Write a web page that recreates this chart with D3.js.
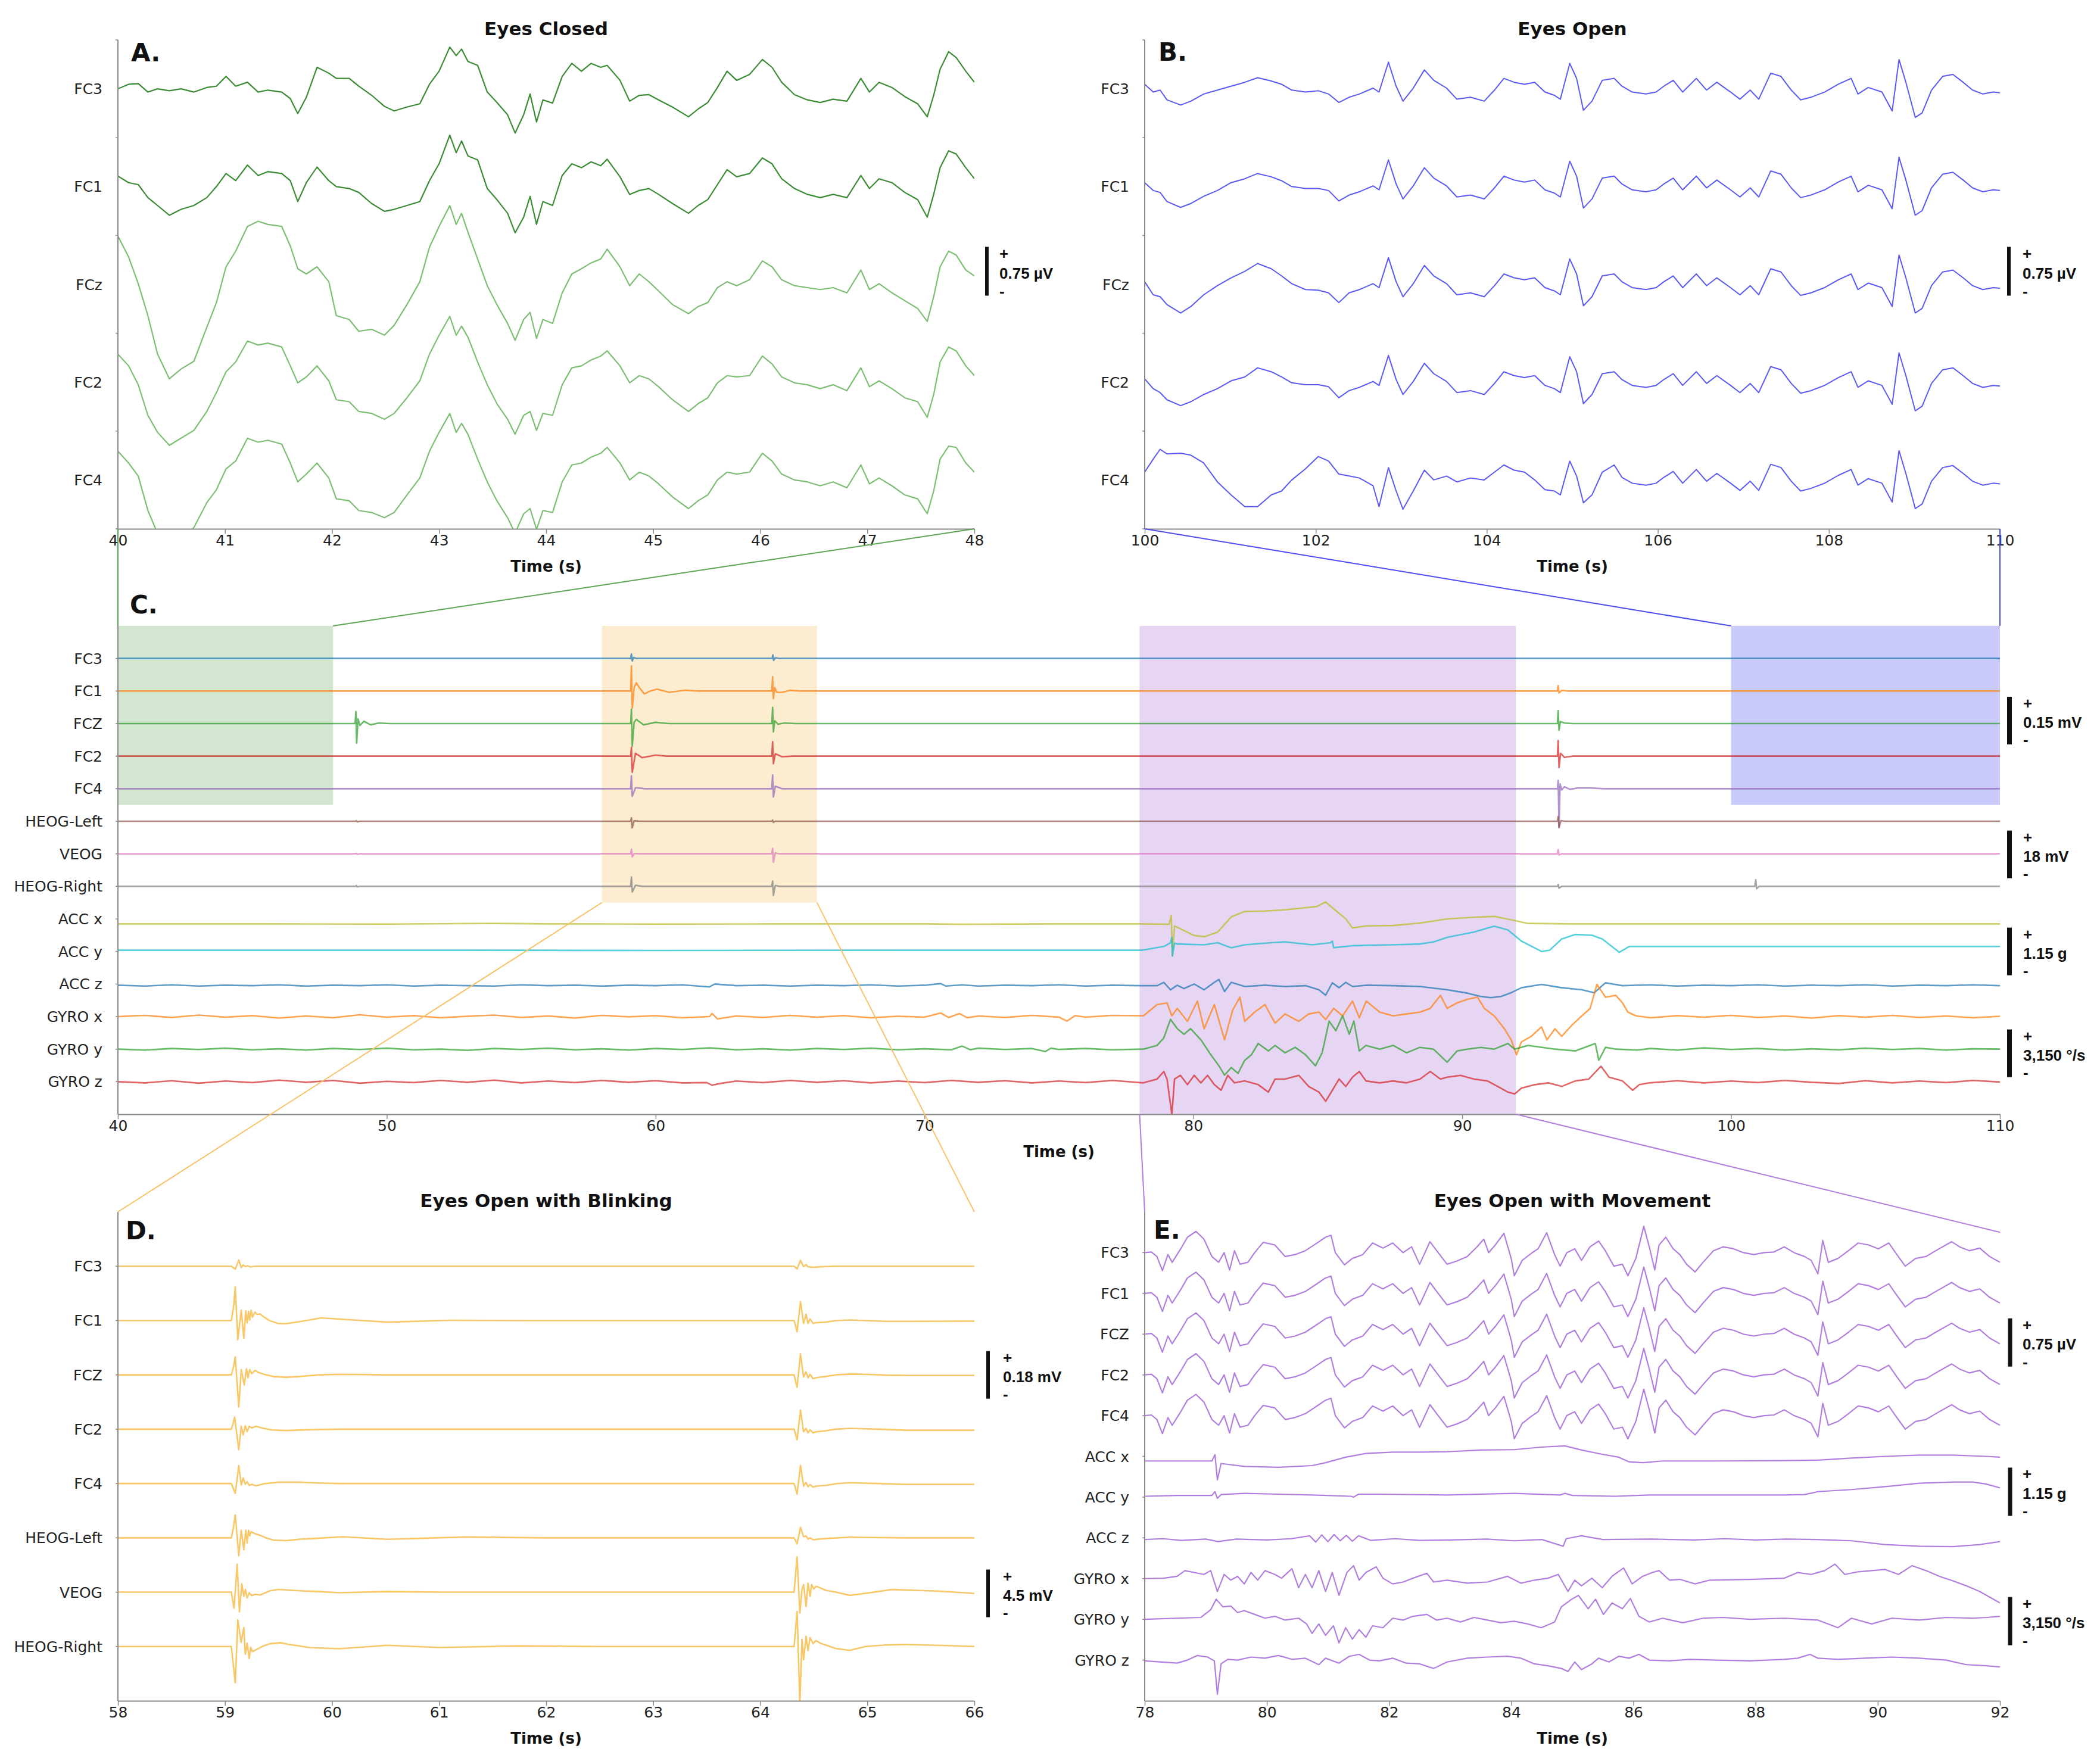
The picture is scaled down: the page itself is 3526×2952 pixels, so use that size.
<!DOCTYPE html>
<html>
<head>
<meta charset="utf-8">
<script src="https://cdnjs.cloudflare.com/ajax/libs/d3/7.8.5/d3.min.js"></script>
<style>
  html, body { margin: 0; padding: 0; background: #fff; overflow: hidden; }
  svg { display: block; font-family: "DejaVu Sans", sans-serif; }
  .chan { font-size: 25px; fill: #222; }
  .title { font-size: 31px; font-weight: bold; fill: #111; }
  .letter { font-size: 42px; font-weight: bold; fill: #111; }
  .scale-label { font-family: "Liberation Sans", Arial, sans-serif; font-size: 26px; font-weight: bold; fill: #111; }
  .axis-title { font-size: 26px; font-weight: bold; fill: #111; }
</style>
</head>
<body>
<script>
// ---------- Panel A: eyes closed (µV) ----------
const aTimes = [40.00, 40.10, 40.19, 40.28, 40.37, 40.48, 40.59, 40.71, 40.83, 40.92,
  41.01, 41.10, 41.21, 41.31, 41.40, 41.53, 41.61, 41.68, 41.76, 41.86,
  41.97, 42.04, 42.16, 42.25, 42.37, 42.49, 42.58, 42.70, 42.82, 42.91,
  43.00, 43.10, 43.16, 43.21, 43.27, 43.36, 43.45, 43.54, 43.64, 43.71,
  43.79, 43.85, 43.91, 43.97, 44.06, 44.15, 44.24, 44.33, 44.42, 44.51,
  44.57, 44.69, 44.78, 44.87, 44.96, 45.05, 45.18, 45.33, 45.42, 45.51,
  45.60, 45.69, 45.78, 45.90, 46.02, 46.11, 46.20, 46.32, 46.44, 46.56,
  46.68, 46.81, 46.94, 47.02, 47.11, 47.23, 47.35, 47.47, 47.56, 47.62,
  47.68, 47.76, 47.83, 47.92, 48.00];
const aFC3 = [0, 0.07, 0.08, -0.05, 0, -0.03, 0, -0.05, 0.02, 0.04,
  0.19, 0.04, 0.10, -0.05, -0.02, -0.05, -0.15, -0.38, -0.13, 0.33,
  0.24, 0.16, 0.16, 0.04, -0.10, -0.27, -0.34, -0.28, -0.23, 0.07,
  0.27, 0.64, 0.51, 0.61, 0.42, 0.36, -0.05, -0.21, -0.40, -0.68,
  -0.40, -0.08, -0.51, -0.17, -0.22, 0.19, 0.39, 0.27, 0.39, 0.33,
  0.36, 0.13, -0.19, -0.10, -0.09, -0.17, -0.28, -0.43, -0.31, -0.21,
  0.02, 0.27, 0.13, 0.22, 0.45, 0.33, 0.10, -0.09, -0.17, -0.21,
  -0.16, -0.19, 0.16, -0.05, 0.10, 0.02, -0.12, -0.23, -0.43, -0.10,
  0.30, 0.57, 0.48, 0.27, 0.10];
const aFC1 = [0.16, 0.06, 0.03, -0.17, -0.29, -0.44, -0.35, -0.29, -0.17, 0,
  0.20, 0.09, 0.33, 0.17, 0.23, 0.20, 0.09, -0.23, 0.06, 0.30,
  0.09, 0, -0.03, -0.09, -0.26, -0.38, -0.35, -0.29, -0.23, 0.09,
  0.35, 0.79, 0.52, 0.70, 0.47, 0.41, -0.03, -0.20, -0.41, -0.71,
  -0.47, -0.15, -0.58, -0.23, -0.29, 0.17, 0.35, 0.29, 0.38, 0.32,
  0.42, 0.15, -0.12, -0.06, -0.03, -0.12, -0.26, -0.41, -0.29, -0.20,
  0.03, 0.26, 0.15, 0.20, 0.44, 0.35, 0.12, -0.03, -0.12, -0.17,
  -0.12, -0.17, 0.17, -0.03, 0.12, 0.06, -0.09, -0.20, -0.47, -0.12,
  0.29, 0.55, 0.50, 0.29, 0.12];
const aFCz = [0.74, 0.42, 0.01, -0.48, -1.07, -1.45, -1.30, -1.18, -0.66, -0.28,
  0.27, 0.51, 0.89, 0.97, 0.92, 0.89, 0.59, 0.24, 0.16, 0.27,
  0.04, -0.48, -0.54, -0.72, -0.69, -0.78, -0.63, -0.31, 0.04, 0.57,
  0.89, 1.21, 0.92, 1.09, 0.80, 0.39, -0.02, -0.31, -0.60, -0.86,
  -0.54, -0.43, -0.83, -0.54, -0.60, -0.13, 0.16, 0.24, 0.33, 0.39,
  0.54, 0.27, -0.02, 0.16, 0.04, -0.10, -0.31, -0.45, -0.34, -0.28,
  -0.05, 0.04, -0.02, 0.07, 0.36, 0.27, 0.07, -0.02, -0.05, -0.08,
  -0.05, -0.13, 0.22, -0.08, 0.01, -0.13, -0.25, -0.37, -0.57, -0.19,
  0.27, 0.51, 0.45, 0.22, 0.13];
const aFC2 = [0.43, 0.25, -0.04, -0.51, -0.77, -0.97, -0.86, -0.74, -0.45, -0.16,
  0.16, 0.31, 0.63, 0.57, 0.60, 0.54, 0.25, -0.01, 0.08, 0.25,
  0.02, -0.27, -0.30, -0.45, -0.48, -0.57, -0.48, -0.24, 0.02, 0.43,
  0.72, 1.01, 0.72, 0.86, 0.69, 0.31, -0.04, -0.33, -0.57, -0.80,
  -0.51, -0.45, -0.74, -0.48, -0.51, -0.04, 0.22, 0.25, 0.34, 0.40,
  0.48, 0.25, -0.01, 0.10, 0.05, -0.07, -0.27, -0.45, -0.33, -0.24,
  -0.01, 0.10, 0.08, 0.10, 0.40, 0.28, 0.08, -0.01, -0.04, -0.10,
  -0.04, -0.13, 0.22, -0.07, 0.02, -0.10, -0.24, -0.30, -0.54, -0.19,
  0.31, 0.54, 0.48, 0.25, 0.10];
const aFC4 = [0.44, 0.26, 0.06, -0.47, -0.82, -0.99, -0.93, -0.73, -0.35, -0.15,
  0.17, 0.29, 0.64, 0.58, 0.61, 0.55, 0.26, -0.03, 0.09, 0.26,
  0.03, -0.29, -0.32, -0.47, -0.50, -0.58, -0.50, -0.23, 0.03, 0.44,
  0.73, 1.02, 0.73, 0.87, 0.70, 0.32, -0.03, -0.32, -0.58, -0.82,
  -0.52, -0.44, -0.76, -0.47, -0.50, -0.03, 0.23, 0.26, 0.35, 0.41,
  0.50, 0.26, 0, 0.12, 0.06, -0.06, -0.26, -0.44, -0.32, -0.23,
  0, 0.12, 0.09, 0.12, 0.41, 0.29, 0.09, 0, -0.03, -0.09,
  -0.03, -0.12, 0.23, -0.06, 0.03, -0.09, -0.23, -0.29, -0.52, -0.17,
  0.32, 0.52, 0.50, 0.26, 0.12];

// ---------- Panel B: eyes open (µV) ----------
const bTimes = [100.00, 100.10, 100.18, 100.26, 100.42, 100.54, 100.69, 100.85, 101.01, 101.17,
  101.32, 101.48, 101.60, 101.72, 101.88, 102.03, 102.15, 102.27, 102.39, 102.51,
  102.67, 102.74, 102.85, 102.94, 103.02, 103.14, 103.27, 103.38, 103.53, 103.65,
  103.81, 103.97, 104.09, 104.20, 104.32, 104.44, 104.56, 104.68, 104.79, 104.86,
  104.97, 105.05, 105.13, 105.23, 105.35, 105.49, 105.58, 105.70, 105.86, 105.98,
  106.07, 106.18, 106.29, 106.45, 106.57, 106.69, 106.85, 106.96, 107.08, 107.18,
  107.32, 107.44, 107.56, 107.67, 107.79, 107.95, 108.11, 108.26, 108.34, 108.46,
  108.62, 108.74, 108.82, 108.90, 109.01, 109.09, 109.20, 109.33, 109.45, 109.57,
  109.68, 109.80, 109.92, 110.00];
const bFC3 = [0.07, -0.05, -0.02, -0.17, -0.25, -0.19, -0.08, -0.02, 0.04, 0.10,
  0.17, 0.12, 0.07, -0.02, -0.05, -0.03, -0.08, -0.21, -0.13, -0.08,
  0.01, -0.05, 0.41, 0.04, -0.19, 0.01, 0.29, 0.13, 0.01, -0.16,
  -0.13, -0.19, -0.02, 0.16, 0.10, 0.07, 0.10, -0.05, -0.10, -0.16,
  0.39, 0.16, -0.33, -0.19, 0.13, 0.16, 0.04, -0.05, -0.08, -0.05,
  0.04, 0.13, -0.05, 0.16, -0.02, 0.10, -0.05, -0.16, -0.02, -0.16,
  0.24, 0.19, -0.02, -0.17, -0.13, -0.05, 0.07, 0.16, -0.08, 0.02,
  -0.05, -0.34, 0.45, 0.10, -0.44, -0.37, -0.02, 0.19, 0.22, 0.10,
  -0.02, -0.08, -0.05, -0.06];
const bFC1 = [0.06, -0.06, -0.09, -0.23, -0.32, -0.26, -0.15, -0.06, 0.06, 0.12,
  0.20, 0.15, 0.09, 0, -0.03, -0.03, -0.06, -0.22].concat(bFC3.slice(18));
const bFCz = [0.04, -0.16, -0.19, -0.31, -0.44, -0.34, -0.16, -0.02, 0.10, 0.20,
  0.32, 0.24, 0.13, 0.01, -0.08, -0.09, -0.13, -0.28].concat(bFC3.slice(18));
const bFC2 = [0.05, -0.10, -0.16, -0.27, -0.36, -0.30, -0.19, -0.10, 0.02, 0.08,
  0.22, 0.16, 0.08, -0.01, -0.04, -0.04, -0.07, -0.24].concat(bFC3.slice(18));
const bFC4 = [0.12, 0.32, 0.47, 0.40, 0.41, 0.38, 0.26, -0.03, -0.23, -0.41,
  -0.41, -0.23, -0.17, 0, 0.17, 0.36, 0.29, 0.09, 0.06, 0.03,
  -0.09, -0.41, 0.19, -0.17, -0.45, -0.17, 0.15, 0, 0.06, -0.03,
  0.03, 0, 0.12, 0.23, 0.15, 0.12, 0, -0.15, -0.17, -0.23,
  0.29, 0.06, -0.35, -0.23, 0.12, 0.23].concat(bFC3.slice(46));

// ---------- Panel C: whole recording, [time s, value] ----------
// EEG in mV
const cFC3 = [[40,0],[59.07,0],[59.1,0.014],[59.13,-0.008],[59.18,0.003],[59.3,0],[64.33,0],[64.36,0.011],[64.39,-0.006],[64.45,0.002],[64.6,0],[110,0]];
const cFC1 = [[40,0],[59.07,0],[59.1,0.079],[59.13,-0.054],[59.2,0.01],[59.28,0.026],[59.4,0.01],[59.58,-0.009],[59.8,0],[60.06,0.006],[60.5,-0.004],[61.09,0.0025],[61.6,0],
  [64.32,0],[64.35,0.045],[64.38,-0.024],[64.43,0.011],[64.5,-0.004],[64.7,-0.004],[65,0.002],[65.4,0],[93.54,0],[93.57,0.017],[93.6,-0.006],[93.7,0.002],[93.9,0],[110,0]];
const cFCZ = [[40,0],[48.82,0],[48.85,0.038],[48.88,-0.062],[48.93,0.015],[49,-0.006],[49.15,0.007],[49.4,-0.004],[49.7,0.002],[50.1,0],
  [59.07,0],[59.1,0.045],[59.13,-0.071],[59.2,0.004],[59.28,0.013],[59.55,-0.004],[60,0.004],[60.5,0],
  [64.32,0],[64.35,0.051],[64.38,-0.026],[64.43,0.009],[64.55,-0.002],[64.8,0.002],[65.2,0],
  [93.54,0],[93.57,0.041],[93.6,-0.021],[93.65,0.006],[93.8,0.002],[94.1,0],[110,0]];
const cFC2 = [[40,0],[59.07,0],[59.1,0.028],[59.13,-0.051],[59.25,0.009],[59.5,-0.005],[60,0.003],[60.4,0],
  [64.32,0],[64.35,0.045],[64.38,-0.024],[64.45,0.0075],[64.7,-0.002],[65.1,0],
  [93.54,0],[93.57,0.049],[93.6,-0.036],[93.66,0.009],[93.8,-0.004],[94.1,0],[110,0]];
const cFC4 = [[40,0],[59.07,0],[59.1,0.041],[59.13,-0.024],[59.25,0.003],[59.6,0],
  [64.32,0],[64.35,0.043],[64.38,-0.026],[64.45,0.0075],[64.7,0],
  [93.54,0],[93.57,0.026],[93.6,-0.12],[93.64,0.015],[93.7,-0.004],[93.8,0.006],[94,-0.002],[94.3,0.002],[94.8,0.002],[95.3,0],[110,0]];
// EOG in mV
const cHEOGL = [[40,0],[48.84,0],[48.87,0.22],[48.9,-0.22],[49,0],[59.07,0],[59.1,1.28],[59.13,-2.48],[59.2,0.2],[59.4,0],
  [64.32,0],[64.35,0.45],[64.38,-0.45],[64.45,0],[93.54,0],[93.57,1.8],[93.6,-2.48],[93.67,0.2],[93.8,0],[110,0]];
const cVEOG = [[40,0],[48.84,0],[48.87,0.2],[48.9,-0.2],[49,0],[59.07,0],[59.1,1.73],[59.13,-1.13],[59.2,0.1],[59.4,0],
  [64.32,0],[64.35,2.03],[64.38,-3.15],[64.45,0.3],[64.6,0],[93.54,0],[93.57,1.58],[93.6,-0.45],[93.7,0],[110,0]];
const cHEOGR = [[40,0],[48.84,0],[48.87,0.3],[48.9,-0.2],[49,0],[59.07,0],[59.1,3.53],[59.13,-2.09],[59.25,0.38],[59.5,0],
  [64.32,0],[64.35,2.03],[64.38,-3.38],[64.45,0.3],[64.6,0],[93.54,0],[93.57,0.68],[93.6,-0.68],[93.7,0],
  [100.88,0],[100.92,2.48],[100.95,-0.9],[101.05,0],[110,0]];
// accelerometer in g
const cACCx = [[40,-0.12],[45,-0.12],[50,-0.125],[54,-0.11],[56,-0.12],[60,-0.125],[65,-0.12],[70,-0.12],[71.4,-0.13],[75,-0.12],[78,-0.12],
  [79.1,-0.13],[79.18,0.09],[79.22,-0.89],[79.3,-0.17],[80.03,-0.40],[80.4,-0.43],[80.9,-0.32],[81.41,0.05],[81.91,0.18],[82.66,0.19],
  [83.41,0.22],[84.17,0.27],[84.6,0.3],[84.92,0.41],[85.17,0.27],[85.67,0],[85.92,-0.22],[86.42,-0.17],[87.43,-0.16],[88.43,-0.10],
  [89.44,0],[90.44,0.04],[91.19,0.06],[91.95,-0.04],[92.45,-0.11],[94,-0.12],[100,-0.12],[110,-0.12]];
const cACCy = [[40,0.03],[50,0.03],[60,0.025],[70,0.03],[78.1,0.03],[78.9,0.12],[79.15,0.21],[79.2,0.34],[79.22,-0.11],[79.3,0.2],[79.4,0.18],
  [80.4,0.16],[80.9,0.21],[81.41,0.09],[81.91,0.16],[82.91,0.21],[83.41,0.23],[84.42,0.16],[85.1,0.21],[85.17,0.25],[85.22,0.09],
  [85.92,0.14],[87.43,0.16],[88.43,0.18],[88.93,0.23],[89.44,0.34],[90.44,0.47],[91.19,0.61],[91.7,0.52],[92.2,0.25],[92.95,0],
  [93.25,0.03],[93.7,0.30],[94.2,0.41],[94.83,0.39],[95.21,0.30],[95.84,-0.02],[96.21,0.12],[100,0.12],[110,0.12]];
const cACCz = [[40,-0.03],[41,-0.05],[42,-0.02],[43,-0.05],[44,-0.03],[45,-0.04],[46,-0.02],[47,-0.05],[48,-0.03],[49,-0.04],
  [50,-0.02],[51,-0.05],[52,-0.03],[53,-0.04],[54,-0.05],[55,-0.02],[56,-0.04],[57,-0.03],[58,-0.05],[59,-0.03],
  [60,-0.04],[61,-0.02],[62,-0.07],[62.2,0],[63,-0.04],[64,-0.03],[65,-0.05],[66,-0.03],[67,-0.04],[68,-0.02],
  [69,-0.05],[70,-0.03],[70.6,0.01],[70.8,-0.05],[71.4,-0.02],[72,-0.05],[73,-0.03],[74,-0.04],[75,-0.02],[76,-0.05],
  [77,-0.03],[78,-0.04],[78.65,-0.04],[78.9,0.04],[79.15,-0.14],[79.4,-0.03],[79.65,-0.11],[80.03,0],[80.4,-0.14],[80.78,0.04],
  [80.95,0.11],[81.16,-0.18],[81.41,0.04],[81.91,-0.06],[82.66,-0.03],[83.41,-0.06],[84.17,-0.04],[84.67,-0.14],[84.92,-0.27],[85.17,0.03],
  [85.42,-0.09],[85.67,0.04],[85.92,-0.06],[86.42,-0.03],[87.43,-0.04],[88.43,-0.06],[89.44,-0.14],[90.19,-0.22],[90.69,-0.30],[91.07,-0.33],
  [91.44,-0.30],[91.82,-0.21],[92.2,-0.09],[92.95,-0.01],[93.7,-0.09],[94.45,-0.14],[94.91,-0.21],[95.33,0.03],[95.96,-0.04],[97,-0.02],
  [98,-0.05],[99,-0.03],[100,-0.04],[101,-0.02],[102,-0.05],[103,-0.03],[104,-0.04],[105,-0.02],[106,-0.05],[107,-0.03],
  [108,-0.04],[109,-0.02],[110,-0.04]];
// gyroscope in °/s
const cGYROx = [[40,0],[41,80],[42,-60],[43,100],[44,-40],[45,60],[46,-100],[47,40],[48,-80],[49,120],
  [50,-40],[51,60],[52,-80],[53,20],[54,100],[55,-60],[56,40],[57,-100],[58,80],[59,-20],
  [60,60],[61,-80],[62,0],[62.1,200],[62.3,-160],[63,40],[64,-60],[65,80],[66,-40],[67,60],
  [68,-80],[69,20],[70,-40],[70.6,240],[70.9,-60],[71.3,200],[71.6,-80],[72,40],[73,-60],[74,80],
  [75,-40],[75.3,-300],[75.6,60],[76,-40],[77,80],[78.14,49],[78.65,788],[79.02,906],[79.2,49],[79.4,542],
  [79.78,-315],[80.15,1024],[80.4,-812],[80.78,788],[81.16,-1537],[81.46,418],[81.73,1281],[81.91,-315],[82.28,296],[82.66,788],
  [83.04,-433],[83.41,173],[83.92,-315],[84.29,173],[84.67,296],[84.92,-197],[85.22,542],[85.55,49],[85.92,1024],[86.17,-79],
  [86.43,1024],[86.93,296],[87.43,49],[87.93,173],[88.43,296],[88.81,542],[89.19,1403],[89.44,542],[89.81,906],[90.19,1143],
  [90.57,1281],[90.82,542],[91.19,49],[91.57,-812],[91.82,-1537],[92.02,-2522],[92.2,-1675],[92.57,-1300],[92.95,-690],[93.15,-1537],
  [93.45,-812],[93.7,-1300],[94.08,-567],[94.45,49],[94.76,542],[95.01,2128],[95.33,1281],[95.71,1403],[95.96,906],[96.16,296],
  [96.46,49],[97,-80],[98,60],[99,-40],[100,80],[101,-60],[102,40],[103,-100],[104,60],[105,-40],
  [106,80],[107,-60],[108,40],[109,-80],[110,20]];
const cGYROy = [[40,0],[41,-60],[42,40],[43,-20],[44,60],[45,-40],[46,20],[47,-60],[48,40],[49,-20],
  [50,60],[51,-40],[52,0],[53,-80],[54,40],[55,-20],[56,60],[57,-40],[58,20],[59,-60],
  [60,40],[61,-20],[62,80],[63,-40],[64,20],[65,-60],[66,40],[67,-20],[68,60],[69,-40],
  [70,20],[71,-40],[71.4,200],[71.7,-40],[72,60],[73,-20],[74,40],[74.5,-160],[74.7,60],[75,-20],
  [76,40],[77,-40],[78.14,0],[78.65,246],[78.9,739],[79.15,1970],[79.4,1355],[79.65,985],[79.9,1355],[80.28,615],
  [80.65,-370],[80.95,-1103],[81.16,-1724],[81.41,-1221],[81.66,-1600],[81.91,-739],[82.16,-370],[82.41,370],[82.79,-118],[83.04,246],
  [83.41,-246],[83.79,118],[84.17,-370],[84.54,-1103],[84.79,-246],[85.05,1852],[85.3,1221],[85.55,2206],[85.8,985],[85.97,1852],
  [86.17,-118],[86.42,246],[86.93,0],[87.43,246],[87.93,-246],[88.43,118],[88.93,0],[89.44,-867],[89.81,-118],[90.19,0],
  [90.69,118],[91.19,0],[91.7,370],[91.95,0],[92.45,246],[93.45,0],[94.2,-118],[94.95,370],[95.08,-739],[95.33,120],
  [95.71,0],[96.5,-60],[97,40],[98,-60],[99,80],[100,-20],[101,40],[102,-60],[103,20],[104,-40],
  [105,60],[106,-20],[107,40],[108,-60],[109,20],[110,0]];
const cGYROz = [[40,0],[41,-80],[42,60],[43,-100],[44,40],[45,-60],[46,100],[47,-40],[48,80],[49,-100],
  [50,20],[51,-60],[52,80],[53,-40],[54,100],[55,-80],[56,40],[57,-60],[58,80],[59,-40],
  [60,60],[61,-80],[61.9,-60],[62.1,-236],[62.4,-120],[63,40],[64,-60],[65,80],[66,-40],[67,60],
  [68,-80],[69,40],[70,-60],[71,80],[72,-40],[73,60],[74,-80],[75,40],[76,-60],[77,80],
  [78.14,-79],[78.65,173],[78.9,670],[79.02,173],[79.2,-2167],[79.3,173],[79.52,418],[79.78,-197],[80.03,418],[80.28,-79],
  [80.53,418],[80.78,-197],[81.03,-567],[81.28,418],[81.53,-79],[81.91,49],[82.41,-197],[82.79,-690],[83.04,173],[83.41,173],
  [83.92,418],[84.29,-315],[84.67,-690],[84.92,-1300],[85.17,-567],[85.42,173],[85.67,-315],[85.92,296],[86.17,670],[86.42,49],
  [86.93,-79],[87.43,49],[87.93,-79],[88.43,173],[88.81,670],[89.19,173],[89.44,296],[89.94,418],[90.44,173],[90.94,49],
  [91.32,-315],[91.7,-690],[91.95,-812],[92.2,-433],[92.7,-197],[93.2,-79],[93.7,-315],[94.2,49],[94.71,173],[95.16,1024],
  [95.46,296],[95.96,49],[96.34,-567],[96.59,-197],[96.96,-79],[98,60],[99,-80],[100,40],[101,-60],[102,80],
  [103,-40],[104,-120],[105,60],[106,-80],[107,40],[108,-60],[109,80],[110,-20]];

// ---------- Panel D: blinking, [time s, mV] ----------
const dFC3 = [[58,0],[59.06,0],[59.096,-0.011],[59.129,0.023],[59.152,-0.005],[59.17,0.005],[59.19,-0.002],[59.21,0.002],[59.24,-0.003],[59.28,0],
  [64.316,0],[64.344,-0.01],[64.376,0.022],[64.405,-0.002],[64.428,0.006],[64.446,-0.002],[64.493,-0.004],[64.567,-0.002],[64.7,0],[66,0]];
const dFC1 = [[58,0],[59.059,0],[59.08,0.05],[59.096,0.127],[59.12,-0.073],[59.152,0.039],[59.176,-0.067],[59.194,0.036],[59.207,-0.009],[59.22,0.034],
  [59.231,0.002],[59.244,0.039],[59.257,0.013],[59.281,0.032],[59.3,0.023],[59.328,0.025],[59.365,0.013],[59.42,-0.001],[59.495,-0.011],[59.57,-0.012],
  [59.7,-0.004],[59.9,0.01],[60.2,0.002],[60.52,-0.006],[61.1,0.001],[61.8,0],[64.316,0],[64.344,-0.042],[64.376,0.072],[64.405,-0.011],
  [64.428,0.024],[64.446,-0.011],[64.465,0.006],[64.493,-0.011],[64.52,-0.008],[64.567,-0.007],[64.613,-0.006],[64.706,0],[64.836,0.002],[64.984,0],
  [65.17,-0.003],[65.355,-0.003],[66,-0.002]];
const dFCZ = [[58,0],[59.059,0],[59.08,0.03],[59.096,0.068],[59.129,-0.121],[59.152,0.02],[59.18,-0.038],[59.2,0.023],[59.215,-0.011],[59.231,0.02],
  [59.25,0.0045],[59.281,0.017],[59.31,0.0095],[59.365,0.002],[59.45,-0.006],[59.57,-0.009],[59.7,-0.006],[59.88,0],[60.07,0.002],[60.5,0],
  [64.316,0],[64.344,-0.047],[64.376,0.079],[64.405,-0.008],[64.428,0.011],[64.446,-0.011],[64.465,0.002],[64.493,-0.014],[64.52,-0.011],[64.567,-0.008],
  [64.613,-0.006],[64.706,0],[64.836,0.003],[64.984,0.002],[65.17,-0.001],[65.355,-0.002],[66,-0.002]];
const dFC2 = [[58,0],[59.059,0],[59.075,0.02],[59.09,0.046],[59.129,-0.077],[59.152,0.011],[59.17,-0.021],[59.19,0.013],[59.207,-0.009],[59.226,0.011],
  [59.25,0.005],[59.29,0.011],[59.35,0.004],[59.44,-0.003],[59.57,-0.005],[59.8,-0.002],[60.07,0],[64.316,0],[64.344,-0.04],[64.376,0.072],
  [64.405,-0.01],[64.428,0.003],[64.446,-0.014],[64.465,-0.002],[64.493,-0.014],[64.52,-0.01],[64.613,-0.006],[64.706,0],[64.836,0.003],[65.1,0],
  [65.355,-0.004],[66,-0.004]];
const dFC4 = [[58,0],[59.059,0],[59.096,-0.037],[59.129,0.067],[59.152,-0.005],[59.17,0.021],[59.19,-0.003],[59.207,0.007],[59.226,-0.007],[59.25,-0.003],
  [59.29,-0.009],[59.365,-0.001],[59.5,0.005],[59.7,0.005],[59.88,0.002],[60.07,0],[64.316,0],[64.344,-0.04],[64.376,0.068],[64.405,-0.01],
  [64.428,0.004],[64.446,-0.012],[64.465,-0.004],[64.493,-0.014],[64.52,-0.01],[64.613,-0.007],[64.706,-0.001],[64.836,0.003],[65.1,0],[65.355,-0.003],
  [66,-0.003]];
const dHEOGL = [[58,0],[59.059,0],[59.08,1.0],[59.096,2.17],[59.129,-1.69],[59.152,0.71],[59.176,-1.12],[59.194,0.71],[59.207,-0.48],[59.22,0.71],
  [59.231,0.19],[59.244,0.58],[59.281,0.39],[59.328,0.24],[59.39,-0.03],[59.45,-0.21],[59.57,-0.26],[59.7,-0.13],[59.88,-0.03],[60.1,0.1],
  [60.52,-0.14],[61.24,0.08],[62,0],[64.316,0],[64.344,-0.56],[64.376,0.99],[64.405,0.11],[64.428,0.17],[64.446,-0.11],[64.465,0],
  [64.493,-0.17],[64.613,-0.06],[64.836,0.06],[65.355,0],[66,0]];
const dVEOG = [[58,0],[59.059,0],[59.085,-1.52],[59.114,2.64],[59.135,-1.85],[59.157,0.79],[59.176,-0.39],[59.19,0.26],[59.207,-0.53],[59.226,-0.06],
  [59.25,-0.32],[59.281,-0.21],[59.328,-0.26],[59.42,0.13],[59.5,0.26],[59.7,0.13],[59.88,0.05],[60.07,-0.05],[60.5,0.05],[61,0],
  [64.316,0],[64.344,3.34],[64.37,-1.97],[64.39,0.28],[64.405,0.72],[64.428,-1.35],[64.446,0.84],[64.465,-0.39],[64.48,0.72],[64.5,0.3],
  [64.52,0.56],[64.55,0.45],[64.613,0.17],[64.706,0],[64.836,-0.3],[64.984,-0.11],[65.23,0.25],[65.65,0.1],[66,-0.11]];
const dHEOGR = [[58,0],[59.059,0],[59.096,-3.43],[59.12,2.53],[59.15,0.4],[59.176,1.78],[59.19,-0.73],[59.207,0.32],[59.226,-1.12],[59.24,-0.08],
  [59.257,-0.48],[59.3,-0.26],[59.36,0.06],[59.42,0.26],[59.52,0.36],[59.6,0.19],[59.8,-0.11],[60.07,-0.21],[60.52,0.11],[61,-0.1],
  [61.73,0.05],[62.5,0],[64.316,0],[64.344,3.31],[64.37,-5.34],[64.39,0.67],[64.405,-1.24],[64.428,0.96],[64.446,-0.39],[64.465,0.84],
  [64.493,0.28],[64.52,0.56],[64.567,0.28],[64.613,0.14],[64.706,-0.19],[64.836,-0.36],[64.984,0],[65.17,0.14],[65.355,0.19],[65.7,0.1],[66,0]];

// ---------- Panel E: movement, [time s, value] ----------
const eEEG = [[78.00,0],[78.11,0.01],[78.20,-0.06],[78.29,-0.28],[78.38,-0.03],[78.45,-0.15],[78.59,0.06],[78.70,0.24],[78.84,0.33],[78.97,0.21],
  [79.10,-0.06],[79.21,-0.15],[79.30,0],[79.39,-0.27],[79.47,0.03],[79.56,-0.18],[79.69,-0.15],[79.80,0],[79.94,0.16],[80.13,0.12],
  [80.30,-0.06],[80.46,-0.03],[80.63,0.03],[80.79,0.13],[80.96,0.24],[81.05,0.27],[81.12,0],[81.27,-0.19],[81.40,-0.09],[81.57,-0.03],
  [81.73,0.15],[81.90,0.07],[82.06,0.15],[82.23,0],[82.37,0.09],[82.50,-0.18],[82.67,0.17],[82.78,0.03],[82.95,-0.18],[83.11,-0.13],
  [83.28,-0.06],[83.44,0.09],[83.55,0.21],[83.63,0],[83.74,0.12],[83.88,0.30],[84.00,-0.09],[84.05,-0.36],[84.18,-0.12],[84.33,-0.01],
  [84.44,0.06],[84.58,0.31],[84.71,-0.03],[84.80,-0.21],[84.91,0],[85.04,0.06],[85.15,-0.12],[85.29,0.09],[85.43,0.18],[85.54,0.03],
  [85.68,-0.21],[85.82,-0.18],[85.91,-0.36],[86.04,-0.09],[86.17,0.41],[86.26,0.09],[86.35,-0.27],[86.42,0.12],[86.53,0.24],[86.65,0.06],
  [86.76,-0.03],[86.87,-0.18],[87.01,-0.30],[87.14,-0.15],[87.31,0.03],[87.47,0.09],[87.64,0.06],[87.80,0],[87.97,-0.03],[88.14,0],
  [88.30,0.01],[88.47,0.09],[88.63,0],[88.80,-0.06],[88.91,-0.12],[89.02,-0.33],[89.10,0.19],[89.19,-0.15],[89.35,-0.09],[89.52,0.03],
  [89.68,0.15],[89.85,0.12],[90.01,0.06],[90.18,0.15],[90.29,0],[90.45,-0.21],[90.62,-0.09],[90.79,-0.06],[90.95,0.03],[91.21,0.17],
  [91.34,0.09],[91.50,0.03],[91.67,0.07],[91.83,-0.06],[92.00,-0.15]];
const eACCx = [[78,-0.11],[78.5,-0.11],[79.1,-0.11],[79.15,0.04],[79.19,-0.56],[79.25,-0.17],[79.63,-0.24],[80.19,-0.26],[80.74,-0.22],[80.96,-0.15],
  [81.29,-0.02],[81.62,0.07],[82.06,0.10],[82.5,0.10],[82.95,0.11],[83.5,0.15],[84.05,0.16],[84.49,0.22],[84.88,0.25],[85.15,0.15],
  [85.49,0.05],[85.76,-0.02],[85.93,-0.13],[86.15,-0.15],[86.48,-0.11],[87.36,-0.11],[88.47,-0.10],[89.02,-0.09],[89.57,-0.04],[90.12,0],
  [90.68,0.03],[91.23,0.03],[91.78,0],[92,-0.02]];
const eACCy = [[78,0.02],[78.53,0.04],[79.1,0.04],[79.15,0.13],[79.19,-0.03],[79.25,0.06],[79.63,0.09],[80.19,0.07],[80.74,0.05],[81.38,0.02],
  [81.42,0],[81.5,0.07],[81.84,0.07],[82.95,0.05],[84.05,0.09],[84.8,0.05],[84.88,0.09],[85.0,0.04],[85.7,0.02],[86.26,0.05],
  [87.36,0.05],[88.47,0.05],[88.8,0.06],[89.02,0.13],[89.57,0.18],[90.12,0.25],[90.68,0.33],[91.23,0.36],[91.56,0.36],[91.78,0.31],[92,0.22]];
const eACCz = [[78,-0.04],[78.3,-0.02],[78.6,-0.06],[79.0,-0.03],[79.2,-0.09],[79.5,-0.03],[80,-0.05],[80.4,-0.02],[80.7,0.05],[80.8,-0.1],
  [80.9,0.07],[81.0,-0.09],[81.1,0.08],[81.2,-0.07],[81.3,0.06],[81.4,-0.08],[81.5,0.05],[81.7,-0.06],[82.1,-0.02],[82.5,-0.06],
  [83,-0.05],[83.6,-0.03],[84.05,-0.07],[84.5,-0.04],[84.85,-0.2],[84.9,-0.02],[85.15,0.05],[85.5,-0.04],[86.3,-0.03],[87,-0.05],
  [87.5,-0.02],[88,-0.05],[88.5,-0.03],[89.0,-0.04],[89.57,-0.07],[90.12,-0.16],[90.68,-0.2],[91.23,-0.21],[91.67,-0.16],[92,-0.09]];
const eGYROx = [[78.00,0],[78.31,25],[78.53,149],[78.66,521],[78.81,397],[78.97,273],[79.08,521],[79.19,-843],[79.30,273],[79.41,-99],
  [79.52,149],[79.63,-347],[79.74,397],[79.85,-99],[79.97,521],[80.13,273],[80.24,25],[80.41,645],[80.52,-595],[80.63,273],
  [80.74,-595],[80.85,521],[80.96,-843],[81.07,397],[81.18,-1091],[81.31,397],[81.42,843],[81.51,-99],[81.62,397],[81.79,769],
  [81.90,25],[82.06,-347],[82.23,-223],[82.39,25],[82.62,347],[82.73,-223],[82.95,-99],[83.28,-298],[83.61,-223],[83.94,149],
  [84.16,-298],[84.38,-99],[84.60,25],[84.77,273],[84.93,-843],[85.04,-99],[85.15,-471],[85.32,25],[85.49,-595],[85.65,149],
  [85.84,694],[85.98,-347],[86.15,149],[86.31,397],[86.42,521],[86.59,-99],[86.76,-50],[87.01,-347],[87.25,-99],[87.91,-50],
  [88.47,25],[88.69,397],[88.91,273],[89.13,521],[89.30,942],[89.46,273],[89.68,446],[89.90,521],[90.12,595],[90.34,273],
  [90.56,843],[90.79,521],[91.01,149],[91.23,-149],[91.45,-471],[91.67,-843],[91.89,-1339],[92.00,-1587]];
const eGYROy = [[78.00,0],[78.53,74],[78.92,124],[79.08,620],[79.17,1314],[79.28,818],[79.41,868],[79.52,446],[79.63,570],[79.80,322],
  [79.97,74],[80.13,198],[80.30,-50],[80.52,74],[80.65,-298],[80.74,-918],[80.85,-298],[80.96,-1042],[81.09,-422],[81.18,-1538],
  [81.29,-546],[81.40,-1290],[81.51,-670],[81.62,-1166],[81.73,-422],[81.90,-546],[82.06,74],[82.23,-50],[82.39,198],[82.62,322],
  [82.78,-50],[82.95,74],[83.17,-174],[83.39,124],[83.61,-50],[83.83,-223],[84.05,-124],[84.27,-298],[84.49,-546],[84.71,-174],
  [84.82,818],[84.99,1314],[85.10,1562],[85.26,694],[85.38,1314],[85.51,322],[85.65,1066],[85.82,694],[85.95,1364],[86.09,198],
  [86.26,-174],[86.48,74],[86.81,-223],[87.14,74],[87.47,124],[87.91,0],[88.47,74],[89.02,-50],[89.35,-546],[89.57,74],
  [89.90,-298],[90.23,74],[90.68,-50],[91.12,124],[91.56,74],[91.78,124],[92.00,198]];
const eGYROz = [[78.00,-50],[78.53,-198],[78.70,0],[78.86,298],[79.03,198],[79.14,-50],[79.19,-2232],[79.25,-248],[79.36,50],[79.52,0],
  [79.74,198],[79.97,124],[80.19,298],[80.41,50],[80.63,124],[80.85,-298],[80.96,124],[81.18,-198],[81.35,248],[81.51,372],
  [81.68,0],[81.84,-50],[82.06,124],[82.28,-198],[82.50,-248],[82.73,-546],[82.95,-124],[83.28,124],[83.61,198],[83.94,248],
  [84.16,124],[84.38,-248],[84.60,-372],[84.82,-546],[84.93,-744],[85.04,-124],[85.15,-620],[85.32,-248],[85.43,124],[85.60,-124],
  [85.76,248],[85.93,124],[86.09,372],[86.26,0],[86.59,-50],[86.92,50],[87.36,0],[87.91,-50],[88.47,50],[88.69,124],
  [88.89,372],[89.02,124],[89.35,50],[89.79,124],[90.23,198],[90.68,124],[91.12,0],[91.45,-298],[91.78,-372],[92.00,-446]];

// ---------- drawing ----------
const tab10 = ["#1f77b4", "#ff7f0e", "#2ca02c", "#d62728", "#9467bd", "#8c564b", "#e377c2", "#7f7f7f", "#bcbd22", "#17becf"];
const spineColor = "#8a8a8a";

const svg = d3.select("body").append("svg").attr("width", 3526).attr("height", 2952);
const defs = svg.append("defs");

function zipPairs(times, values) {
  return d3.zip(times, values);
}

function drawPanel(p) {
  const x = d3.scaleLinear().domain(p.domain).range([p.left, p.right]);
  const slot = d3.scaleLinear().domain([0, p.slots]).range([p.top, p.bottom]);
  const rowY = (i) => slot(i + p.first);
  const g = svg.append("g").attr("class", "panel-" + p.id);

  defs.append("clipPath").attr("id", "clip-" + p.id)
    .append("rect")
    .attr("x", p.left).attr("y", p.top)
    .attr("width", p.right - p.left).attr("height", p.bottom - p.top);

  (p.highlights || []).forEach((h) => {
    g.append("rect")
      .attr("x", x(h.from)).attr("width", x(h.to) - x(h.from))
      .attr("y", slot(0)).attr("height", slot(h.rows) - slot(0))
      .attr("fill", h.color).attr("fill-opacity", h.opacity);
  });

  const traces = g.append("g").attr("clip-path", `url(#clip-${p.id})`);
  p.channels.forEach((ch, i) => {
    const amp = d3.scaleLinear().domain([0, p.groups[ch.group]]).range([0, -p.barLen]);
    const base = rowY(i);
    const line = d3.line().x((d) => x(d[0])).y((d) => base + amp(d[1]));
    traces.append("path")
      .datum(ch.data)
      .attr("d", line)
      .attr("fill", "none")
      .attr("stroke", ch.color)
      .attr("stroke-opacity", ch.opacity ?? 1)
      .attr("stroke-width", p.lineWidth)
      .attr("stroke-linejoin", "round");
  });

  // left spine + small ticks
  g.append("line")
    .attr("x1", p.left).attr("x2", p.left).attr("y1", p.top).attr("y2", p.bottom)
    .attr("stroke", spineColor).attr("stroke-width", 2);
  const minor = p.tickAtBounds ? d3.range(0, p.slots + 1) : p.channels.map((c, i) => i + p.first);
  g.append("g").selectAll("line").data(minor).join("line")
    .attr("x1", p.left - 4).attr("x2", p.left)
    .attr("y1", (d) => slot(d)).attr("y2", (d) => slot(d))
    .attr("stroke", spineColor).attr("stroke-width", 1.5);

  g.append("g").selectAll("text").data(p.channels).join("text")
    .attr("class", "chan")
    .attr("x", p.left - 26)
    .attr("y", (d, i) => rowY(i))
    .attr("dy", "0.36em")
    .attr("text-anchor", "end")
    .text((d) => d.name);

  // bottom axis
  const ax = g.append("g")
    .attr("transform", `translate(0,${p.bottom})`)
    .call(d3.axisBottom(x).tickValues(p.ticks).tickSize(8).tickSizeOuter(0).tickPadding(2).tickFormat(d3.format("d")));
  ax.attr("font-size", 25).attr("font-family", "DejaVu Sans, sans-serif");
  ax.select(".domain").attr("stroke", spineColor).attr("stroke-width", 2);
  ax.selectAll(".tick line").attr("stroke", spineColor).attr("stroke-width", 1.5);
  ax.selectAll(".tick text").attr("fill", "#222");

  g.append("text").attr("class", "axis-title")
    .attr("x", (p.left + p.right) / 2).attr("y", p.bottom + 72)
    .attr("text-anchor", "middle").text("Time (s)");

  if (p.title) {
    g.append("text").attr("class", "title")
      .attr("x", (p.left + p.right) / 2).attr("y", p.top - 8)
      .attr("text-anchor", "middle").text(p.title);
  }
  g.append("text").attr("class", "letter")
    .attr("x", p.left + p.letterPos[0]).attr("y", p.top + p.letterPos[1]).text(p.letter);

  // scale bars
  p.bars.forEach((b) => {
    const amp = d3.scaleLinear().domain([0, p.groups[b.group]]).range([0, p.barLen]);
    const len = amp(p.groups[b.group]);
    const cy = rowY(b.row) + b.dy;
    const top = cy - len / 2;
    const bx = p.right + p.barDx;
    const tx = bx + p.textDx;
    g.append("line")
      .attr("x1", bx).attr("x2", bx).attr("y1", top).attr("y2", top + len)
      .attr("stroke", "#111").attr("stroke-width", p.barWidth);
    const lab = g.append("g");
    lab.append("text").attr("class", "scale-label").attr("x", tx).attr("y", top + 11).attr("dominant-baseline", "central").text("+");
    lab.append("text").attr("class", "scale-label").attr("x", tx).attr("y", cy + 3).attr("dominant-baseline", "central").text(b.label);
    lab.append("text").attr("class", "scale-label").attr("x", tx).attr("y", top + len - 8).attr("dominant-baseline", "central").text("-");
  });

  return { x, slot, p };
}

const A = drawPanel({
  id: "A", title: "Eyes Closed", letter: "A.", letterPos: [22, 36],
  left: 198, right: 1636, top: 67, bottom: 888,
  domain: [40, 48], ticks: d3.range(40, 49), slots: 5, first: 0.5, tickAtBounds: true,
  groups: { eeg: 0.75 }, barLen: 82, lineWidth: 2.2,
  channels: [
    { name: "FC3", group: "eeg", data: zipPairs(aTimes, aFC3), color: "#3a8b34" },
    { name: "FC1", group: "eeg", data: zipPairs(aTimes, aFC1), color: "#3a8b34" },
    { name: "FCz", group: "eeg", data: zipPairs(aTimes, aFCz), color: "#7dbe74" },
    { name: "FC2", group: "eeg", data: zipPairs(aTimes, aFC2), color: "#7dbe74" },
    { name: "FC4", group: "eeg", data: zipPairs(aTimes, aFC4), color: "#7dbe74" },
  ],
  bars: [{ group: "eeg", row: 2, dy: -22, label: "0.75 µV" }],
  barDx: 21, textDx: 21, barWidth: 6,
});

const B = drawPanel({
  id: "B", title: "Eyes Open", letter: "B.", letterPos: [23, 35],
  left: 1922, right: 3358, top: 67, bottom: 888,
  domain: [100, 110], ticks: d3.range(100, 111, 2), slots: 5, first: 0.5, tickAtBounds: true,
  groups: { eeg: 0.75 }, barLen: 82, lineWidth: 2,
  channels: [
    { name: "FC3", group: "eeg", data: zipPairs(bTimes, bFC3), color: "#5a5af2" },
    { name: "FC1", group: "eeg", data: zipPairs(bTimes, bFC1), color: "#5a5af2" },
    { name: "FCz", group: "eeg", data: zipPairs(bTimes, bFCz), color: "#5a5af2" },
    { name: "FC2", group: "eeg", data: zipPairs(bTimes, bFC2), color: "#5a5af2" },
    { name: "FC4", group: "eeg", data: zipPairs(bTimes, bFC4), color: "#5a5af2" },
  ],
  bars: [{ group: "eeg", row: 2, dy: -22, label: "0.75 µV" }],
  barDx: 15, textDx: 23, barWidth: 6,
});

const cNames = ["FC3", "FC1", "FCZ", "FC2", "FC4", "HEOG-Left", "VEOG", "HEOG-Right", "ACC x", "ACC y", "ACC z", "GYRO x", "GYRO y", "GYRO z"];
const cData = [cFC3, cFC1, cFCZ, cFC2, cFC4, cHEOGL, cVEOG, cHEOGR, cACCx, cACCy, cACCz, cGYROx, cGYROy, cGYROz];
const cGroups = ["eeg", "eeg", "eeg", "eeg", "eeg", "eog", "eog", "eog", "acc", "acc", "acc", "gyro", "gyro", "gyro"];

const C = drawPanel({
  id: "C", title: null, letter: "C.", letterPos: [20, -21],
  left: 198, right: 3358, top: 1051, bottom: 1871,
  domain: [40, 110], ticks: d3.range(40, 111, 10), slots: 15, first: 1, tickAtBounds: false,
  groups: { eeg: 0.15, eog: 18, acc: 1.15, gyro: 3150 }, barLen: 80, lineWidth: 2.6,
  highlights: [
    { from: 40, to: 48, rows: 5.5, color: "#4a9a44", opacity: 0.25 },
    { from: 58, to: 66, rows: 8.5, color: "#f5b942", opacity: 0.25 },
    { from: 78, to: 92, rows: 15, color: "#9b59d0", opacity: 0.25 },
    { from: 100, to: 110, rows: 5.5, color: "#4848ee", opacity: 0.29 },
  ],
  channels: cNames.map((n, i) => ({ name: n, group: cGroups[i], data: cData[i], color: tab10[i % 10], opacity: 0.72 })),
  bars: [
    { group: "eeg", row: 2, dy: -5, label: "0.15 mV" },
    { group: "eog", row: 6, dy: 1, label: "18 mV" },
    { group: "acc", row: 9, dy: 0, label: "1.15 g" },
    { group: "gyro", row: 12, dy: 7, label: "3,150 °/s" },
  ],
  barDx: 16, textDx: 23, barWidth: 8,
});

const dNames = ["FC3", "FC1", "FCZ", "FC2", "FC4", "HEOG-Left", "VEOG", "HEOG-Right"];
const dData = [dFC3, dFC1, dFCZ, dFC2, dFC4, dHEOGL, dVEOG, dHEOGR];
const D = drawPanel({
  id: "D", title: "Eyes Open with Blinking", letter: "D.", letterPos: [13, 46],
  left: 198, right: 1636, top: 2035, bottom: 2856,
  domain: [58, 66], ticks: d3.range(58, 67), slots: 9, first: 1, tickAtBounds: false,
  groups: { eeg: 0.18, eog: 4.5 }, barLen: 80, lineWidth: 2.6,
  channels: dNames.map((n, i) => ({ name: n, group: i < 5 ? "eeg" : "eog", data: dData[i], color: "#f6bd4e", opacity: 0.85 })),
  bars: [
    { group: "eeg", row: 2, dy: 0, label: "0.18 mV" },
    { group: "eog", row: 6, dy: 2, label: "4.5 mV" },
  ],
  barDx: 23, textDx: 25, barWidth: 6,
});

const eNames = ["FC3", "FC1", "FCZ", "FC2", "FC4", "ACC x", "ACC y", "ACC z", "GYRO x", "GYRO y", "GYRO z"];
const eData = [eEEG, eEEG, eEEG, eEEG, eEEG, eACCx, eACCy, eACCz, eGYROx, eGYROy, eGYROz];
const eGroups = ["eeg", "eeg", "eeg", "eeg", "eeg", "acc", "acc", "acc", "gyro", "gyro", "gyro"];
const E = drawPanel({
  id: "E", title: "Eyes Open with Movement", letter: "E.", letterPos: [15, 45],
  left: 1922, right: 3358, top: 2035, bottom: 2856,
  domain: [78, 92], ticks: d3.range(78, 93, 2), slots: 12, first: 1, tickAtBounds: false,
  groups: { eeg: 0.75, acc: 1.15, gyro: 3150 }, barLen: 81, lineWidth: 2.2,
  channels: eNames.map((n, i) => ({ name: n, group: eGroups[i], data: eData[i], color: "#b07fde" })),
  bars: [
    { group: "eeg", row: 2, dy: 14, label: "0.75 µV" },
    { group: "acc", row: 6, dy: -9, label: "1.15 g" },
    { group: "gyro", row: 9, dy: 3, label: "3,150 °/s" },
  ],
  barDx: 17, textDx: 21, barWidth: 7,
});

// connector lines from the highlighted windows to the zoomed panels
const links = [
  { color: "#5ea656", from: [A.p.left, A.p.bottom], to: [C.x(40), C.slot(0)] },
  { color: "#5ea656", from: [A.p.right, A.p.bottom], to: [C.x(48), C.slot(0)] },
  { color: "#4c4cf0", from: [B.p.left, B.p.bottom], to: [C.x(100), C.slot(0)] },
  { color: "#4c4cf0", from: [B.p.right, B.p.bottom], to: [C.x(110), C.slot(0)] },
  { color: "#f7c36a", from: [C.x(58), C.slot(8.5)], to: [D.p.left, D.p.top] },
  { color: "#f7c36a", from: [C.x(66), C.slot(8.5)], to: [D.p.right, D.p.top] },
  { color: "#b07fde", from: [C.x(78), C.slot(15)], to: [E.p.left, E.p.top] },
  { color: "#b07fde", from: [C.x(92), C.slot(15)], to: [E.p.right, E.slot(0.5)] },
];
svg.append("g").selectAll("line").data(links).join("line")
  .attr("x1", (d) => d.from[0]).attr("y1", (d) => d.from[1])
  .attr("x2", (d) => d.to[0]).attr("y2", (d) => d.to[1])
  .attr("stroke", (d) => d.color).attr("stroke-width", 2);
</script>
</body>
</html>
